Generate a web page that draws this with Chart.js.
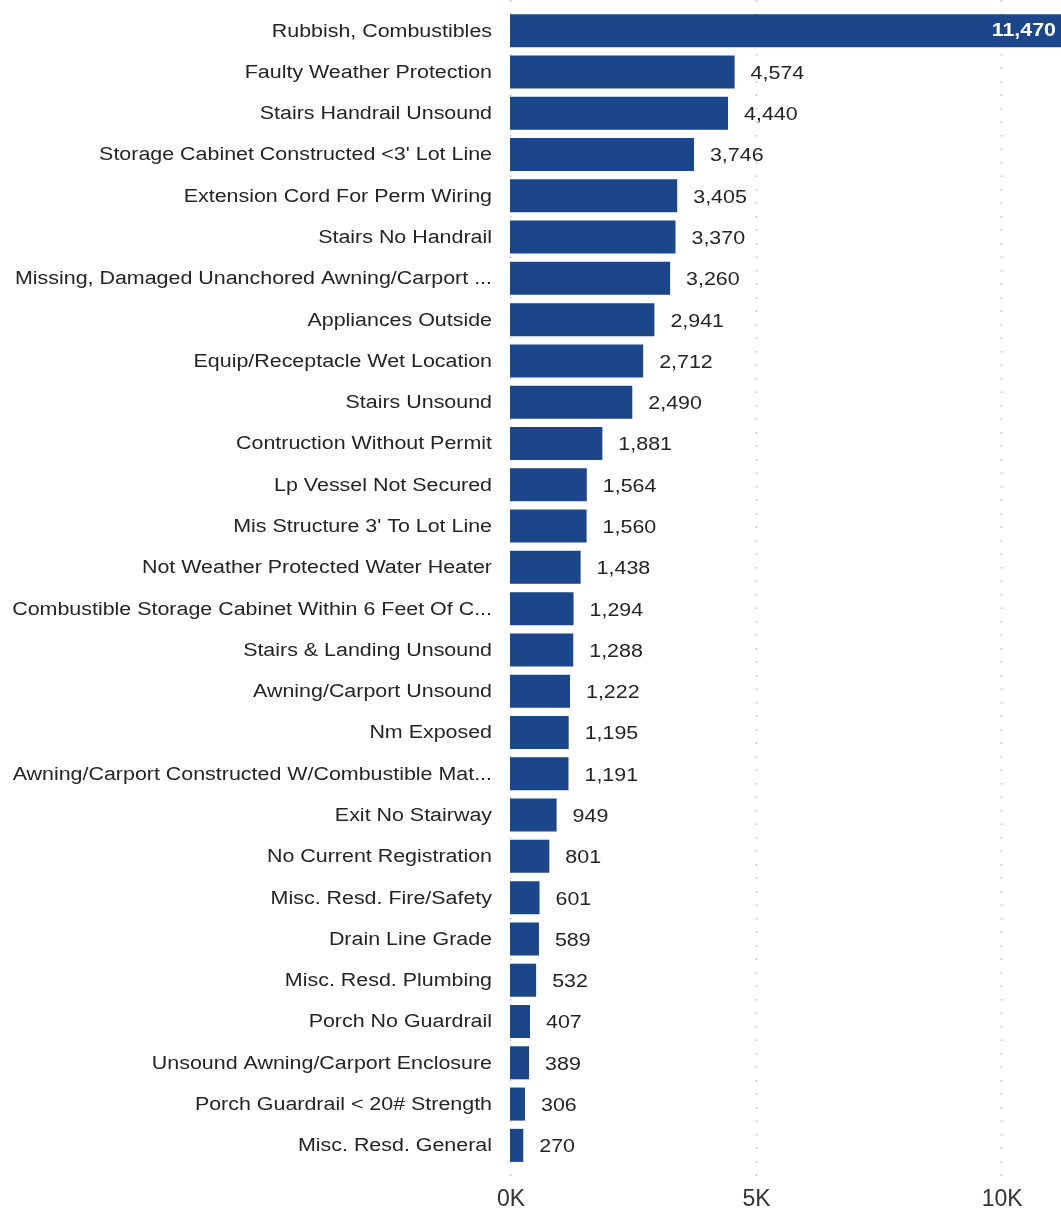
<!DOCTYPE html>
<html>
<head>
<meta charset="utf-8">
<script src="https://cdn.jsdelivr.net/npm/chart.js@4/dist/chart.umd.min.js"></script>
<style>
	html, body { margin: 0; padding: 0; background: #fff; }
	#wrap { width: 1061px; height: 1213px; position: relative; }
</style>
</head>
<body>
<div id="wrap"><canvas id="chart"></canvas></div>
<script>
'use strict';

var categories = [
	'Rubbish, Combustibles',
	'Faulty Weather Protection',
	'Stairs Handrail Unsound',
	'Storage Cabinet Constructed <3\' Lot Line',
	'Extension Cord For Perm Wiring',
	'Stairs No Handrail',
	'Missing, Damaged Unanchored Awning/Carport ...',
	'Appliances Outside',
	'Equip/Receptacle Wet Location',
	'Stairs Unsound',
	'Contruction Without Permit',
	'Lp Vessel Not Secured',
	'Mis Structure 3\' To Lot Line',
	'Not Weather Protected Water Heater',
	'Combustible Storage Cabinet Within 6 Feet Of C...',
	'Stairs & Landing Unsound',
	'Awning/Carport Unsound',
	'Nm Exposed',
	'Awning/Carport Constructed W/Combustible Mat...',
	'Exit No Stairway',
	'No Current Registration',
	'Misc. Resd. Fire/Safety',
	'Drain Line Grade',
	'Misc. Resd. Plumbing',
	'Porch No Guardrail',
	'Unsound Awning/Carport Enclosure',
	'Porch Guardrail < 20# Strength',
	'Misc. Resd. General'
];

var counts = [
	11470, 4574, 4440, 3746, 3405, 3370, 3260, 2941, 2712, 2490,
	1881, 1564, 1560, 1438, 1294, 1288, 1222, 1195, 1191, 949,
	801, 601, 589, 532, 407, 389, 306, 270
];

var xTicks = [0, 5000, 10000];
var xTickLabels = ['0K', '5K', '10K'];

var FONT = 'Arial, "Liberation Sans", sans-serif';
var STRETCH = 1.19; // the original text is drawn a bit wide

function wideText(ctx, text, x, y, align, font, color, sx) {
	ctx.save();
	ctx.font = font;
	ctx.fillStyle = color;
	ctx.textAlign = align;
	ctx.textBaseline = 'middle';
	ctx.translate(x, y);
	ctx.scale(sx || STRETCH, 1);
	ctx.fillText(text, 0, 0);
	ctx.restore();
}

var dotGrid = {
	id: 'dotGrid',
	beforeDatasetsDraw: function(chart) {
		var ctx = chart.ctx;
		var area = chart.chartArea;
		var x = chart.scales.x;
		ctx.save();
		ctx.strokeStyle = '#bdbdbd';
		ctx.lineWidth = 1.5;
		ctx.setLineDash([1.5, 12]);
		xTicks.forEach(function(v) {
			var px = Math.round(x.getPixelForValue(v)) + 0.5;
			ctx.beginPath();
			ctx.moveTo(px, 0);
			ctx.lineTo(px, area.bottom + 12);
			ctx.stroke();
		});
		ctx.restore();
	}
};

// category names, axis labels and bar values
var textLayer = {
	id: 'textLayer',
	afterDatasetsDraw: function(chart) {
		var ctx = chart.ctx;
		var area = chart.chartArea;
		var xs = chart.scales.x;
		var ys = chart.scales.y;
		var meta = chart.getDatasetMeta(0);
		var font = '18px ' + FONT;

		categories.forEach(function(name, i) {
			wideText(ctx, name, area.left - 18, ys.getPixelForTick(i) + 1, 'right', font, '#252423');
		});

		xTicks.forEach(function(v, i) {
			wideText(ctx, xTickLabels[i], xs.getPixelForValue(v) + 1, area.bottom + 34, 'center', '23px ' + FONT, '#333333', 1);
		});

		meta.data.forEach(function(bar, i) {
			var text = counts[i].toLocaleString('en-US');
			ctx.font = font;
			var w = ctx.measureText(text).width * STRETCH;
			if (bar.x + 16 + w > area.right) {
				wideText(ctx, text, Math.min(bar.x, area.right) - 5, bar.y, 'right', 'bold ' + font, '#ffffff');
			} else {
				wideText(ctx, text, bar.x + 16, bar.y + 2, 'left', font, '#252423');
			}
		});
	}
};

new Chart(document.getElementById('chart').getContext('2d'), {
	type: 'bar',
	data: {
		labels: categories,
		datasets: [{
			data: counts,
			backgroundColor: '#1b4689',
			categoryPercentage: 1,
			barPercentage: 0.8
		}]
	},
	options: {
		indexAxis: 'y',
		responsive: true,
		maintainAspectRatio: false,
		animation: false,
		layout: {padding: {top: 10, right: 0, left: 0, bottom: 0}},
		plugins: {
			legend: {display: false},
			tooltip: {enabled: false}
		},
		scales: {
			x: {
				min: 0,
				max: 11220,
				afterBuildTicks: function(scale) {
					scale.ticks = xTicks.map(function(v) { return {value: v}; });
				},
				afterFit: function(scale) { scale.height = 47; },
				border: {display: false},
				grid: {display: false},
				ticks: {display: false}
			},
			y: {
				afterFit: function(scale) { scale.width = 510; },
				border: {display: false},
				grid: {display: false},
				ticks: {display: false, autoSkip: false}
			}
		}
	},
	plugins: [dotGrid, textLayer]
});
</script>
</body>
</html>
